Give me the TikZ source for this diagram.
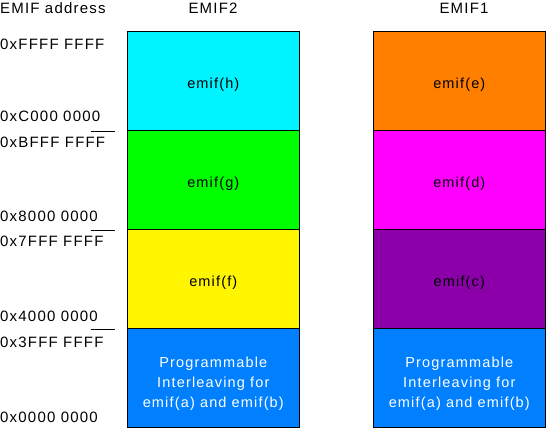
\documentclass[tikz,border=0pt]{standalone}
\usepackage{fontspec}
\setmainfont[LetterSpace=8]{Liberation Sans}
\usepackage{tikz}
\usetikzlibrary{positioning}
\definecolor{Aqua}{HTML}{00F4FF}
\definecolor{Lime}{HTML}{00FF00}
\definecolor{Lemon}{HTML}{FFF500}
\definecolor{Azure}{HTML}{0080FF}
\definecolor{Tangerine}{HTML}{FF8000}
\definecolor{Fuchsia}{HTML}{FF00FF}
\definecolor{Plum}{HTML}{8C00AA}
\tikzset{
 region/.style={draw=black,line width=1.2pt,minimum width=172pt,minimum height=99pt,
   inner sep=0pt,outer sep=0pt,align=center,font=\fontsize{14.5}{20}\selectfont,
   text height=16pt,text depth=0pt},
 shared/.style={region,fill=Azure,text=white,text height=60pt},
 addr/.style={anchor=base west,inner sep=0pt,font=\fontsize{15}{17}\selectfont},
 title/.style={anchor=base,inner sep=0pt,font=\fontsize{15}{17}\selectfont},
 tick/.style={line width=0.9pt}
}
\begin{document}
\begin{tikzpicture}[x=1pt,y=-1pt,node distance=0pt]
\useasboundingbox (0,0) rectangle (546,430);
% headings
\node[title,anchor=base west] (hdr) at (0,14) {EMIF address};
\node[title] (emiftwo) at (213,14) {EMIF2};
\node[title] (emifone) at (464,14) {EMIF1};
% EMIF2 column
\node[region,fill=Aqua,anchor=north] (h) at (213.3,31.3) {emif(h)};
\node[region,fill=Lime,below=of h] (g) {emif(g)};
\node[region,fill=Lemon,below=of g] (f) {emif(f)};
\node[shared,below=of f] (ab2) {Programmable\\Interleaving for\\emif(a) and emif(b)};
% EMIF1 column
\node[region,fill=Tangerine,anchor=north] (e) at (459.3,31.3) {emif(e)};
\node[region,fill=Fuchsia,below=of e] (d) {emif(d)};
\node[region,fill=Plum,below=of d] (c) {emif(c)};
\node[shared,below=of c] (ab1) {Programmable\\Interleaving for\\emif(a) and emif(b)};
% addresses
\node[addr] (a7) at (0,50) {0xFFFF FFFF};
\node[addr] (a6) at (0,122) {0xC000 0000};
\node[addr] (a5) at (0,148) {0xBFFF FFFF};
\node[addr] (a4) at (0,222) {0x8000 0000};
\node[addr] (a3) at (0,247) {0x7FFF FFFF};
\node[addr] (a2) at (0,321) {0x4000 0000};
\node[addr] (a1) at (0,347) {0x3FFF FFFF};
\node[addr] (a0) at (0,422) {0x0000 0000};
% boundary ticks
\coordinate (t1) at (91,131);
\coordinate (t2) at (91,230);
\coordinate (t3) at (91,329);
\draw[tick] (t1) -- ++(24,0);
\draw[tick] (t2) -- ++(24,0);
\draw[tick] (t3) -- ++(24,0);
\end{tikzpicture}
\end{document}
